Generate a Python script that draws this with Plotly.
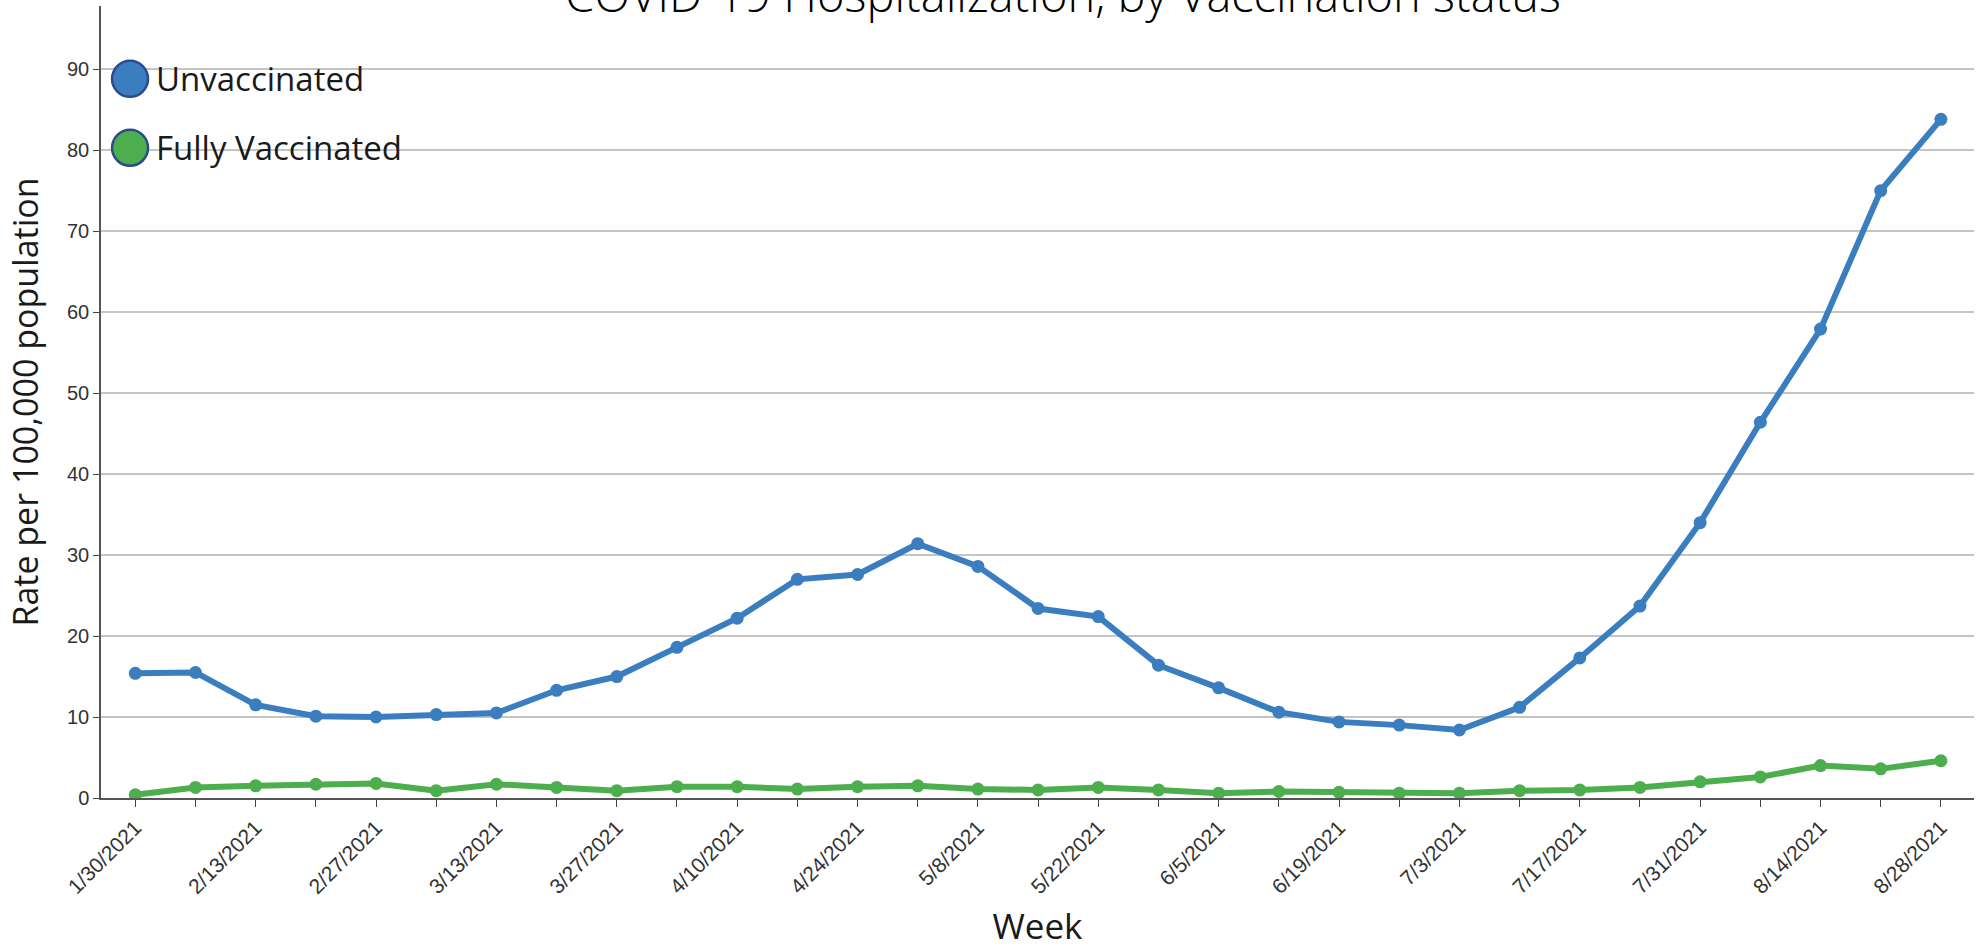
import plotly.graph_objects as go

# weekly dates, 1/30/2021 .. 8/28/2021
weeks = [
    "1/30/2021", "2/6/2021", "2/13/2021", "2/20/2021", "2/27/2021", "3/6/2021",
    "3/13/2021", "3/20/2021", "3/27/2021", "4/3/2021", "4/10/2021", "4/17/2021",
    "4/24/2021", "5/1/2021", "5/8/2021", "5/15/2021", "5/22/2021", "5/29/2021",
    "6/5/2021", "6/12/2021", "6/19/2021", "6/26/2021", "7/3/2021", "7/10/2021",
    "7/17/2021", "7/24/2021", "7/31/2021", "8/7/2021", "8/14/2021", "8/21/2021",
    "8/28/2021",
]

unvaccinated = [
    15.4, 15.5, 11.5, 10.1, 10.0, 10.3, 10.5, 13.3, 15.0, 18.6, 22.2, 27.0,
    27.6, 31.4, 28.6, 23.4, 22.4, 16.4, 13.6, 10.6, 9.4, 9.0, 8.4, 11.2,
    17.3, 23.7, 34.0, 46.4, 57.9, 75.0, 83.8,
]

fully_vaccinated = [
    0.4, 1.3, 1.5, 1.7, 1.8, 0.9, 1.7, 1.3, 0.9, 1.4, 1.4, 1.1,
    1.4, 1.5, 1.1, 1.0, 1.3, 1.0, 0.6, 0.8, 0.7, 0.6, 0.6, 0.9,
    1.0, 1.3, 2.0, 2.6, 4.0, 3.6, 4.6,
]

series_names = ["Unvaccinated", "Fully Vaccinated"]
series_colors = ["#3a7ebf", "#4cae4c"]

# every other week gets a label
tick_text = [w if i % 2 == 0 else "" for i, w in enumerate(weeks)]

fig = go.Figure()
for name, vals, color in zip(series_names, [unvaccinated, fully_vaccinated], series_colors):
    fig.add_trace(go.Scatter(
        x=weeks,
        y=vals,
        name=name,
        mode="lines+markers",
        line=dict(color=color, width=6),
        marker=dict(color=color, size=13),
        showlegend=False,
    ))

# custom legend: white patch over gridlines, big circles, labels
shapes = [dict(
    type="rect", xref="paper", yref="paper", layer="between",
    x0=0.002, x1=0.1767, y0=0.79, y1=0.935,
    fillcolor="white", line=dict(width=0),
)]
annotations = []
legend_y = [0.908, 0.821]
for name, color, ly in zip(series_names, series_colors, legend_y):
    shapes.append(dict(
        type="circle", xref="paper", yref="paper", layer="above",
        xsizemode="pixel", ysizemode="pixel",
        xanchor=0.0155, yanchor=ly,
        x0=-18, x1=18, y0=-18, y1=18,
        fillcolor=color, line=dict(color="#2b4b8c", width=2.5),
    ))
    annotations.append(dict(
        text=name, xref="paper", yref="paper",
        x=0.0285, y=ly, xanchor="left", yanchor="middle",
        showarrow=False,
        font=dict(family="Open Sans", size=33, color="#1a1a1a"),
    ))

# chart title sits partly above the page edge, as in the source
annotations.append(dict(
    text="COVID-19 Hospitalization, by Vaccination status",
    xref="paper", yref="paper", x=0.5136, y=1.0,
    xanchor="center", yanchor="middle", yshift=12,
    showarrow=False,
    font=dict(family="Open Sans", size=47, color="#000000", weight=300),
))

fig.update_layout(
    width=1980,
    height=949,
    margin=dict(l=101, r=6, t=6, b=151),
    plot_bgcolor="white",
    paper_bgcolor="white",
    shapes=shapes,
    annotations=annotations,
    xaxis=dict(
        type="category",
        range=[-0.57, 30.55],
        tickvals=weeks,
        ticktext=tick_text,
        tickangle=-45,
        ticks="outside",
        ticklen=7,
        tickcolor="#444",
        tickfont=dict(family="Liberation Sans, Arial", size=21, color="#333"),
        showgrid=False,
        showline=True,
        linecolor="#555",
        linewidth=2,
        automargin=False,
        title=dict(text="Week", standoff=43,
                   font=dict(family="Open Sans", size=35, color="#1a1a1a")),
    ),
    yaxis=dict(
        range=[0, 97.8],
        tickvals=[0, 10, 20, 30, 40, 50, 60, 70, 80, 90],
        ticks="outside",
        ticklen=6,
        tickcolor="#444",
        tickfont=dict(family="Liberation Sans, Arial", size=20, color="#333"),
        showgrid=True,
        gridcolor="#c4c4c4",
        gridwidth=1.5,
        zeroline=False,
        showline=True,
        linecolor="#555",
        linewidth=1.5,
        automargin=False,
        title=dict(text="Rate per 100,000 population", standoff=18,
                   font=dict(family="Open Sans", size=34, color="#1a1a1a")),
    ),
)

fig.write_html(
    "out.html",
    config={"displayModeBar": False},
    post_script="document.body.style.margin='0';",
)
